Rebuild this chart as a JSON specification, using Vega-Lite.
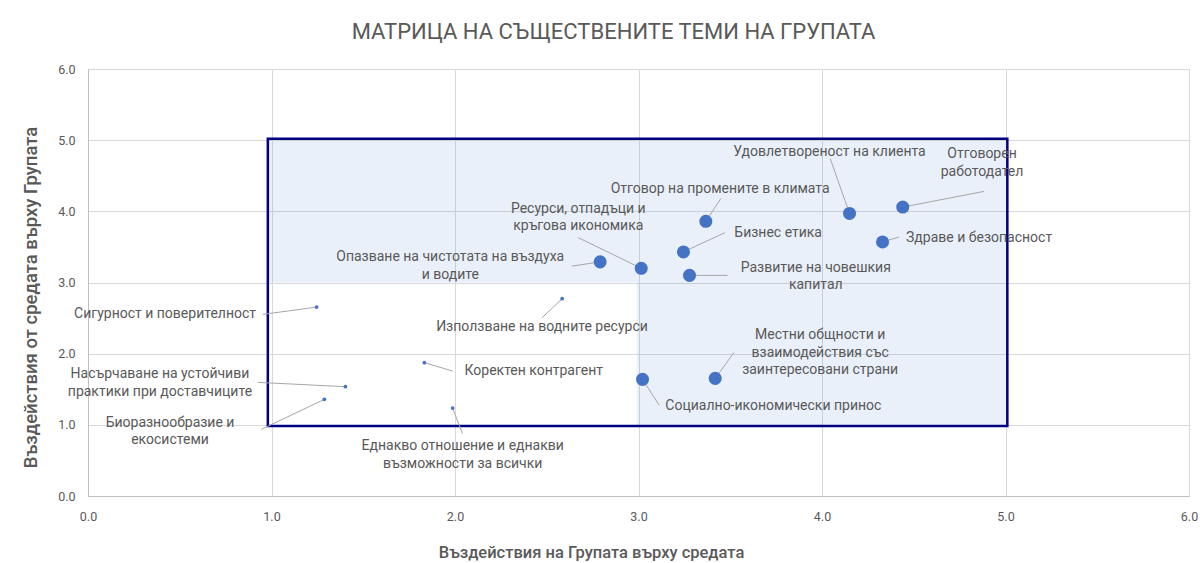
{
  "$schema": "https://vega.github.io/schema/vega-lite/v6.json",
  "width": 1101,
  "height": 427,
  "autosize": "none",
  "padding": {"left": 88, "top": 69, "right": 11, "bottom": 67},
  "background": "white",
  "config": {"view": {"stroke": null}, "font": "Roboto"},
  "title": {
    "text": "МАТРИЦА НА СЪЩЕСТВЕНИТЕ ТЕМИ НА ГРУПАТА",
    "font": "Roboto",
    "fontSize": 22,
    "fontWeight": "normal",
    "color": "#595959",
    "anchor": "middle",
    "frame": "group",
    "baseline": "alphabetic",
    "offset": 2,
    "dx": -25
  },
  "datasets": {
    "zones": [
      {"zone": "горна", "x1": 0.98, "x2": 5.01, "y1": 3.0, "y2": 5.02},
      {"zone": "дясна", "x1": 2.99, "x2": 5.01, "y1": 0.985, "y2": 3.0}
    ],
    "frame": [
      {"x1": 0.98, "x2": 5.01, "y1": 0.985, "y2": 5.02}
    ],
    "topics": [
      {"name": "Удовлетвореност на клиента", "group": "основна", "x": 4.15, "y": 3.97, "lx": 4.041, "ly": 4.827, "ex": 4.045, "ey": 4.74},
      {"name": "Отговорен\nработодател", "group": "основна", "x": 4.44, "y": 4.06, "lx": 4.872, "ly": 4.799, "ex": 4.883, "ey": 4.28},
      {"name": "Здраве и безопасност", "group": "основна", "x": 4.33, "y": 3.57, "lx": 4.856, "ly": 3.629, "ex": 4.42, "ey": 3.64},
      {"name": "Бизнес етика", "group": "основна", "x": 3.245, "y": 3.43, "lx": 3.761, "ly": 3.70, "ex": 3.47, "ey": 3.70},
      {"name": "Отговор на промените в климата", "group": "основна", "x": 3.367, "y": 3.86, "lx": 3.445, "ly": 4.308, "ex": 3.449, "ey": 4.18},
      {"name": "Ресурси, отпадъци и\nкръгова икономика", "group": "основна", "x": 3.015, "y": 3.20, "lx": 2.672, "ly": 4.038, "ex": 2.672, "ey": 3.63},
      {"name": "Опазване на чистотата на въздуха\nи водите", "group": "основна", "x": 2.791, "y": 3.29, "lx": 1.974, "ly": 3.357, "ex": 2.637, "ey": 3.23},
      {"name": "Развитие на човешкия\nкапитал", "group": "основна", "x": 3.278, "y": 3.10, "lx": 3.966, "ly": 3.208, "ex": 3.485, "ey": 3.10},
      {"name": "Местни общности и\nвзаимодействия със\nзаинтересовани страни", "group": "основна", "x": 3.418, "y": 1.653, "lx": 3.99, "ly": 2.261, "ex": 3.52, "ey": 2.014},
      {"name": "Социално-икономически принос", "group": "основна", "x": 3.022, "y": 1.639, "lx": 3.735, "ly": 1.264, "ex": 3.113, "ey": 1.274},
      {"name": "Сигурност и поверителност", "group": "друга", "x": 1.246, "y": 2.654, "lx": 0.42, "ly": 2.552, "ex": 0.952, "ey": 2.552},
      {"name": "Използване на водните ресурси", "group": "друга", "x": 2.584, "y": 2.772, "lx": 2.474, "ly": 2.374, "ex": 2.474, "ey": 2.503},
      {"name": "Коректен контрагент", "group": "друга", "x": 1.833, "y": 1.873, "lx": 2.429, "ly": 1.756, "ex": 1.987, "ey": 1.756},
      {"name": "Насърчаване на устойчиви\nпрактики при доставчиците", "group": "друга", "x": 1.403, "y": 1.536, "lx": 0.392, "ly": 1.709, "ex": 0.924, "ey": 1.597},
      {"name": "Биоразнообразие и\nекосистеми", "group": "друга", "x": 1.288, "y": 1.358, "lx": 0.447, "ly": 1.031, "ex": 0.945, "ey": 0.937},
      {"name": "Еднакво отношение и еднакви\nвъзможности за всички", "group": "друга", "x": 1.987, "y": 1.236, "lx": 2.042, "ly": 0.702, "ex": 2.041, "ey": 0.877}
    ]
  },
  "layer": [
    {
      "data": {"name": "zones"},
      "mark": {"type": "rect", "fill": "#4472C4", "fillOpacity": 0.11},
      "encoding": {
        "x": {
          "field": "x1", "type": "quantitative",
          "scale": {"domain": [0, 6], "nice": false, "zero": false},
          "axis": {
            "values": [0, 1, 2, 3, 4, 5, 6],
            "format": ".1f",
            "title": "Въздействия на Групата върху средата",
            "titleFont": "Roboto",
            "titleFontSize": 16.5,
            "titleFontWeight": 500,
            "titleColor": "#595959",
            "titleX": 503,
            "titleY": 61,
            "titleAlign": "center",
            "titleBaseline": "alphabetic",
            "labelFont": "Roboto",
            "labelFontSize": 12.5,
            "labelColor": "#595959",
            "labelPadding": 14,
            "ticks": false,
            "domainColor": "#BFBFBF",
            "gridColor": "#D9D9D9",
            "labelFlush": false
          }
        },
        "x2": {"field": "x2"},
        "y": {
          "field": "y1", "type": "quantitative",
          "scale": {"domain": [0, 6], "nice": false, "zero": false},
          "axis": {
            "values": [0, 1, 2, 3, 4, 5, 6],
            "format": ".1f",
            "title": "Въздействия от средата върху Групата",
            "titleFont": "Roboto",
            "titleFontSize": 18.5,
            "titleFontWeight": 500,
            "titleColor": "#595959",
            "titleX": -58,
            "titleY": 228,
            "titleAngle": -90,
            "titleAlign": "center",
            "titleBaseline": "middle",
            "labelFont": "Roboto",
            "labelFontSize": 12.5,
            "labelColor": "#595959",
            "labelPadding": 13,
            "ticks": false,
            "domainColor": "#BFBFBF",
            "gridColor": "#D9D9D9",
            "labelFlush": false
          }
        },
        "y2": {"field": "y2"}
      }
    },
    {
      "data": {"name": "frame"},
      "mark": {"type": "rect", "fill": null, "fillOpacity": 0, "stroke": "#000080", "strokeWidth": 2.5},
      "encoding": {
        "x": {"field": "x1", "type": "quantitative"},
        "x2": {"field": "x2"},
        "y": {"field": "y1", "type": "quantitative"},
        "y2": {"field": "y2"}
      }
    },
    {
      "data": {"name": "topics"},
      "mark": {"type": "rule", "color": "#A6A6A6", "strokeWidth": 1},
      "encoding": {
        "x": {"field": "x", "type": "quantitative"},
        "y": {"field": "y", "type": "quantitative"},
        "x2": {"field": "ex"},
        "y2": {"field": "ey"}
      }
    },
    {
      "data": {"name": "topics"},
      "mark": {"type": "circle", "color": "#4472C4", "opacity": 1},
      "encoding": {
        "x": {"field": "x", "type": "quantitative"},
        "y": {"field": "y", "type": "quantitative"},
        "size": {
          "field": "group", "type": "ordinal",
          "scale": {"domain": ["основна", "друга"], "range": [170, 14]},
          "legend": null
        }
      }
    },
    {
      "data": {"name": "topics"},
      "mark": {
        "type": "text",
        "font": "Roboto",
        "fontSize": 14,
        "color": "#595959",
        "align": "center",
        "baseline": "middle",
        "lineBreak": "\n",
        "lineHeight": 17.5
      },
      "encoding": {
        "x": {"field": "lx", "type": "quantitative"},
        "y": {"field": "ly", "type": "quantitative"},
        "text": {"field": "name", "type": "nominal"}
      }
    }
  ]
}
